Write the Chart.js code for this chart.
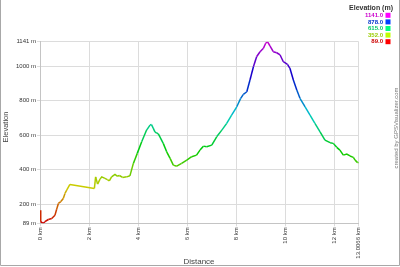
<!DOCTYPE html>
<html>
<head>
<meta charset="utf-8">
<script src="https://cdn.jsdelivr.net/npm/chart.js@4"></script>
<style>
    html, body { margin: 0; padding: 0; background: #fff; }
</style>
</head>
<body>
<canvas id="elevationProfile" width="400" height="267"></canvas>
<script>
const distanceKm = [0, 0.03, 0.13, 0.2, 0.34, 0.48, 0.61, 0.68, 0.75, 0.85, 0.95, 1.02, 1.09, 1.22,
    2.22, 2.27, 2.35, 2.45, 2.52, 2.65, 2.75, 2.83, 2.92, 3.06, 3.15, 3.24, 3.37, 3.54, 3.67,
    3.81, 3.97, 4.15, 4.35, 4.49, 4.55, 4.62, 4.69, 4.76, 4.83, 5.03, 5.17, 5.31, 5.44, 5.58,
    5.78, 5.99, 6.19, 6.39, 6.53, 6.67, 6.8, 7.01, 7.21, 7.42, 7.62, 7.82, 8.03,
    8.19, 8.3, 8.44, 8.57, 8.71, 8.84, 8.98, 9.12, 9.21, 9.28, 9.39, 9.52, 9.66,
    9.8, 9.93, 10.1, 10.2, 10.34, 10.48, 10.61, 10.82, 11.02, 11.22, 11.43, 11.63,
    11.84, 11.97, 12.11, 12.24, 12.38, 12.52, 12.65, 12.79, 12.86, 12.95, 13.0066];
const elevationM = [165, 98, 89, 98, 111, 117, 136, 170, 204, 215, 233, 262, 281, 314,
    291, 358, 316, 345, 358, 349, 342, 335, 358, 372, 362, 366, 355, 358, 364,
    436, 494, 561, 629, 658, 661, 640, 619, 612, 607, 552, 503, 465, 426, 420,
    436, 455, 475, 484, 513, 536, 532, 542, 590, 629, 668, 716, 764,
    813, 836, 851, 919, 996, 1054, 1083, 1103, 1132, 1141, 1116, 1083, 1077,
    1064, 1025, 1010, 987, 919, 861, 813, 764, 716, 668, 619, 571,
    556, 552, 529, 513, 484, 490, 479, 471, 455, 442, 440];

const yTicks = [89, 200, 400, 600, 800, 1000, 1141];
const xTicks = [0, 2, 4, 6, 8, 10, 12, 13.0066];
const legendValues = [1141.0, 878.0, 615.0, 352.0, 89.0];

const minElev = 89;
const maxElev = 1141;
const fontFamily = '"Liberation Sans", Arial, sans-serif';

function elevationColor(v, lightness) {
    const f = Math.max(0, Math.min(1, (v - minElev) / (maxElev - minElev)));
    return 'hsl(' + Math.round(300 * f) + ', 100%, ' + lightness + '%)';
}

// frame, legend, axis titles and credit line
const decorations = {
    id: 'decorations',
    afterDraw: function (chart) {
        const ctx = chart.ctx;
        ctx.save();

        ctx.strokeStyle = '#a8a8a8';
        ctx.lineWidth = 1;
        ctx.beginPath();
        ctx.moveTo(0.5, 0);
        ctx.lineTo(0.5, 265.5);
        ctx.lineTo(399.5, 265.5);
        ctx.lineTo(399.5, 0);
        ctx.stroke();

        ctx.fillStyle = '#333';
        ctx.font = 'bold 7px ' + fontFamily;
        ctx.textAlign = 'right';
        ctx.textBaseline = 'middle';
        ctx.fillText('Elevation (m)', 393, 8);

        ctx.font = 'bold 6px ' + fontFamily;
        legendValues.forEach(function (v, i) {
            const y = 15.3 + i * 6.6;
            ctx.fillStyle = elevationColor(v, 40);
            ctx.fillText(v.toFixed(1), 383, y);
            ctx.fillStyle = elevationColor(v, 50);
            ctx.fillRect(385.5, y - 2.5, 5, 5);
        });

        ctx.fillStyle = '#444';
        ctx.textAlign = 'center';
        ctx.font = '8px ' + fontFamily;
        ctx.fillText('Distance', 199, 262);

        ctx.save();
        ctx.translate(6, 127);
        ctx.rotate(-Math.PI / 2);
        ctx.font = '7.5px ' + fontFamily;
        ctx.fillText('Elevation', 0, 0);
        ctx.restore();

        ctx.save();
        ctx.translate(396, 128);
        ctx.rotate(-Math.PI / 2);
        ctx.fillStyle = '#777';
        ctx.font = '6px ' + fontFamily;
        ctx.fillText('created by GPSVisualizer.com', 0, 0);
        ctx.restore();

        ctx.restore();
    }
};

new Chart(document.getElementById('elevationProfile'), {
    type: 'line',
    data: {
        datasets: [{
            label: 'Elevation',
            data: distanceKm.map(function (d, i) { return { x: d, y: elevationM[i] }; }),
            borderWidth: 1.5,
            pointRadius: 0,
            tension: 0,
            segment: {
                borderColor: function (c) {
                    return elevationColor((c.p0.parsed.y + c.p1.parsed.y) / 2, 40);
                }
            }
        }]
    },
    options: {
        responsive: false,
        animation: false,
        layout: {
            padding: { left: 0, right: 41.3, top: 41.7, bottom: 0 }
        },
        plugins: {
            legend: { display: false },
            tooltip: { enabled: false }
        },
        scales: {
            x: {
                type: 'linear',
                min: 0,
                max: 13.0066,
                afterBuildTicks: function (scale) {
                    scale.ticks = xTicks.map(function (v) { return { value: v }; });
                },
                afterFit: function (scale) {
                    scale.height = 43.7;
                },
                ticks: {
                    autoSkip: false,
                    minRotation: 90,
                    maxRotation: 90,
                    padding: 1,
                    color: '#333',
                    font: { family: fontFamily, size: 6 },
                    callback: function (value) { return value + ' km'; }
                },
                grid: { color: '#dcdcdc', tickLength: 3 },
                border: { color: '#c4c4c4' }
            },
            y: {
                type: 'linear',
                min: 89,
                max: 1141,
                afterBuildTicks: function (scale) {
                    scale.ticks = yTicks.map(function (v) { return { value: v }; });
                },
                afterFit: function (scale) {
                    scale.width = 40;
                },
                ticks: {
                    autoSkip: false,
                    padding: 1,
                    color: '#333',
                    font: { family: fontFamily, size: 6 },
                    callback: function (value) { return value + ' m'; }
                },
                grid: { color: '#dcdcdc', tickLength: 3 },
                border: { color: '#c4c4c4' }
            }
        }
    },
    plugins: [decorations]
});
</script>
</body>
</html>
